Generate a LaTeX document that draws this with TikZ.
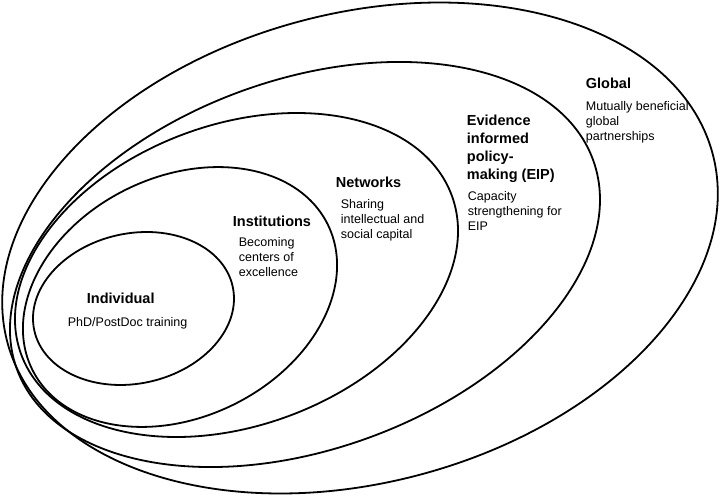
\documentclass[tikz,border=0pt]{standalone}
\usepackage{fontspec}
\setmainfont{Liberation Sans}

\begin{document}
\begin{tikzpicture}[
    x=1pt, y=-1pt,
    line width=1.8pt,
    ring/.style={draw=black},
    head/.style={font=\bfseries\fontsize{14.5}{18}\selectfont, align=left, inner sep=0pt, anchor=north west},
    desc/.style={font=\fontsize{12.5}{15}\selectfont, align=left, inner sep=0pt, anchor=north west}
]

\useasboundingbox (0,0) rectangle (720,495);

% --- Die Ringe (von aussen nach innen) ---
\coordinate (cGlob) at (360,248);
\coordinate (cEIP)  at (305,264.5);
\coordinate (cNet)  at (236.5,275);
\coordinate (cInst) at (180,297);
\coordinate (cInd)  at (133.5,308.5);

\draw[ring, rotate around={15:(cGlob)}]   (cGlob) ellipse [x radius=365,   y radius=234.5];
\draw[ring, rotate around={19.9:(cEIP)}]  (cEIP)  ellipse [x radius=306.5, y radius=184.6];
\draw[ring, rotate around={20.3:(cNet)}]  (cNet)  ellipse [x radius=229.5, y radius=150.4];
\draw[ring, rotate around={26:(cInst)}]   (cInst) ellipse [x radius=164.6, y radius=120.2];
\draw[ring, rotate around={12.6:(cInd)}]  (cInd)  ellipse [x radius=101.6, y radius=75];

% --- Beschriftungen ---
\node[head] (glob) at (585,77) {Global};
\node[desc] (globD) at (585,101) {Mutually beneficial\\global\\partnerships};

\node[head] (eip) at (466,114) {Evidence\\informed\\policy-\\making (EIP)};
\node[desc] (eipD) at (467,191) {Capacity\\strengthening for\\EIP};

\node[head] (net) at (335,176) {Networks};
\node[desc] (netD) at (340,199) {Sharing\\intellectual and\\social capital};

\node[head] (inst) at (232,215) {Institutions};
\node[desc] (instD) at (238,237) {Becoming\\centers of\\excellence};

\node[head] (ind) at (86,292) {Individual};
\node[desc] (indD) at (67,317) {PhD/PostDoc training};

\end{tikzpicture}
\end{document}
